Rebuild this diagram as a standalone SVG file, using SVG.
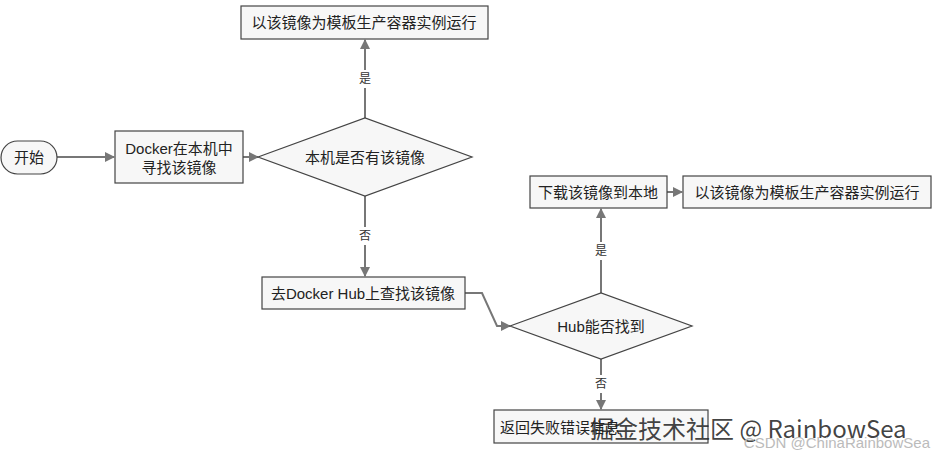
<svg xmlns="http://www.w3.org/2000/svg" width="938" height="458" viewBox="0 0 938 458">
<style>
.n{fill:#f7f7f7;stroke:#444;stroke-width:1.2}
.t{font-family:"Liberation Sans","Noto Sans CJK SC",sans-serif;font-size:15px;fill:#222;text-anchor:middle;dominant-baseline:central}
.l{font-family:"Liberation Sans","Noto Sans CJK SC",sans-serif;font-size:12px;fill:#333;text-anchor:middle;dominant-baseline:central}
.c{fill:none;stroke:#777;stroke-width:2;marker-end:url(#a)}
</style>
<defs><marker id="a" markerWidth="10" markerHeight="10" refX="9" refY="5" orient="auto" markerUnits="userSpaceOnUse"><path d="M0,0L10,5L0,10z" fill="#777"/></marker></defs>
<rect width="938" height="458" fill="#fff"/>
<g id="connectors">
<path class="c" d="M57,157H114"/>
<path class="c" d="M243,157H258"/>
<path class="c" d="M365,118V40"/>
<path class="c" d="M365,196V276"/>
<path class="c" d="M465,293H482L497,326H510"/>
<path class="c" d="M601,293V209"/>
<path class="c" d="M667,192H682"/>
<path class="c" d="M601,359V409"/>
<rect x="357" y="70" width="16" height="18" fill="#fff"/><text class="l" x="365" y="79">是</text>
<rect x="357" y="227" width="16" height="18" fill="#fff"/><text class="l" x="365" y="236">否</text>
<rect x="593" y="242" width="16" height="18" fill="#fff"/><text class="l" x="601" y="251">是</text>
<rect x="593" y="375" width="16" height="18" fill="#fff"/><text class="l" x="601" y="384">否</text>
</g>
<g id="start"><rect class="n" x="1" y="141" width="56" height="33" rx="16.5"/><text class="t" x="29" y="157">开始</text></g>
<g id="search"><rect class="n" x="115" y="131" width="128" height="52"/><text class="t" x="179" y="148">Docker在本机中</text><text class="t" x="179" y="167">寻找该镜像</text></g>
<g id="local"><path class="n" d="M258,157L365,118L472,157L365,196z"/><text class="t" x="365" y="157">本机是否有该镜像</text></g>
<g id="run1"><rect class="n" x="241" y="6" width="247" height="33"/><text class="t" x="364" y="22">以该镜像为模板生产容器实例运行</text></g>
<g id="hubsearch"><rect class="n" x="262" y="277" width="203" height="32"/><text class="t" x="363" y="293">去Docker Hub上查找该镜像</text></g>
<g id="hub"><path class="n" d="M510,326L601,293L692,326L601,359z"/><text class="t" x="601" y="326">Hub能否找到</text></g>
<g id="download"><rect class="n" x="530" y="176" width="137" height="32"/><text class="t" x="598" y="192">下载该镜像到本地</text></g>
<g id="run2"><rect class="n" x="683" y="176" width="248" height="32"/><text class="t" x="807" y="192">以该镜像为模板生产容器实例运行</text></g>
<g id="fail"><rect class="n" x="494" y="410" width="214" height="33"/><text class="t" x="500" y="427" style="text-anchor:start">返回失败错误信息</text></g>
<text x="590" y="438" font-family="'Noto Sans CJK SC',sans-serif" font-size="24" fill="#222" fill-opacity="0.85">掘金技术社区 @ RainbowSea</text>
<text x="930" y="448" font-family="'Liberation Sans',sans-serif" font-size="15" fill="#bbb" text-anchor="end">CSDN @ChinaRainbowSea</text>
</svg>
